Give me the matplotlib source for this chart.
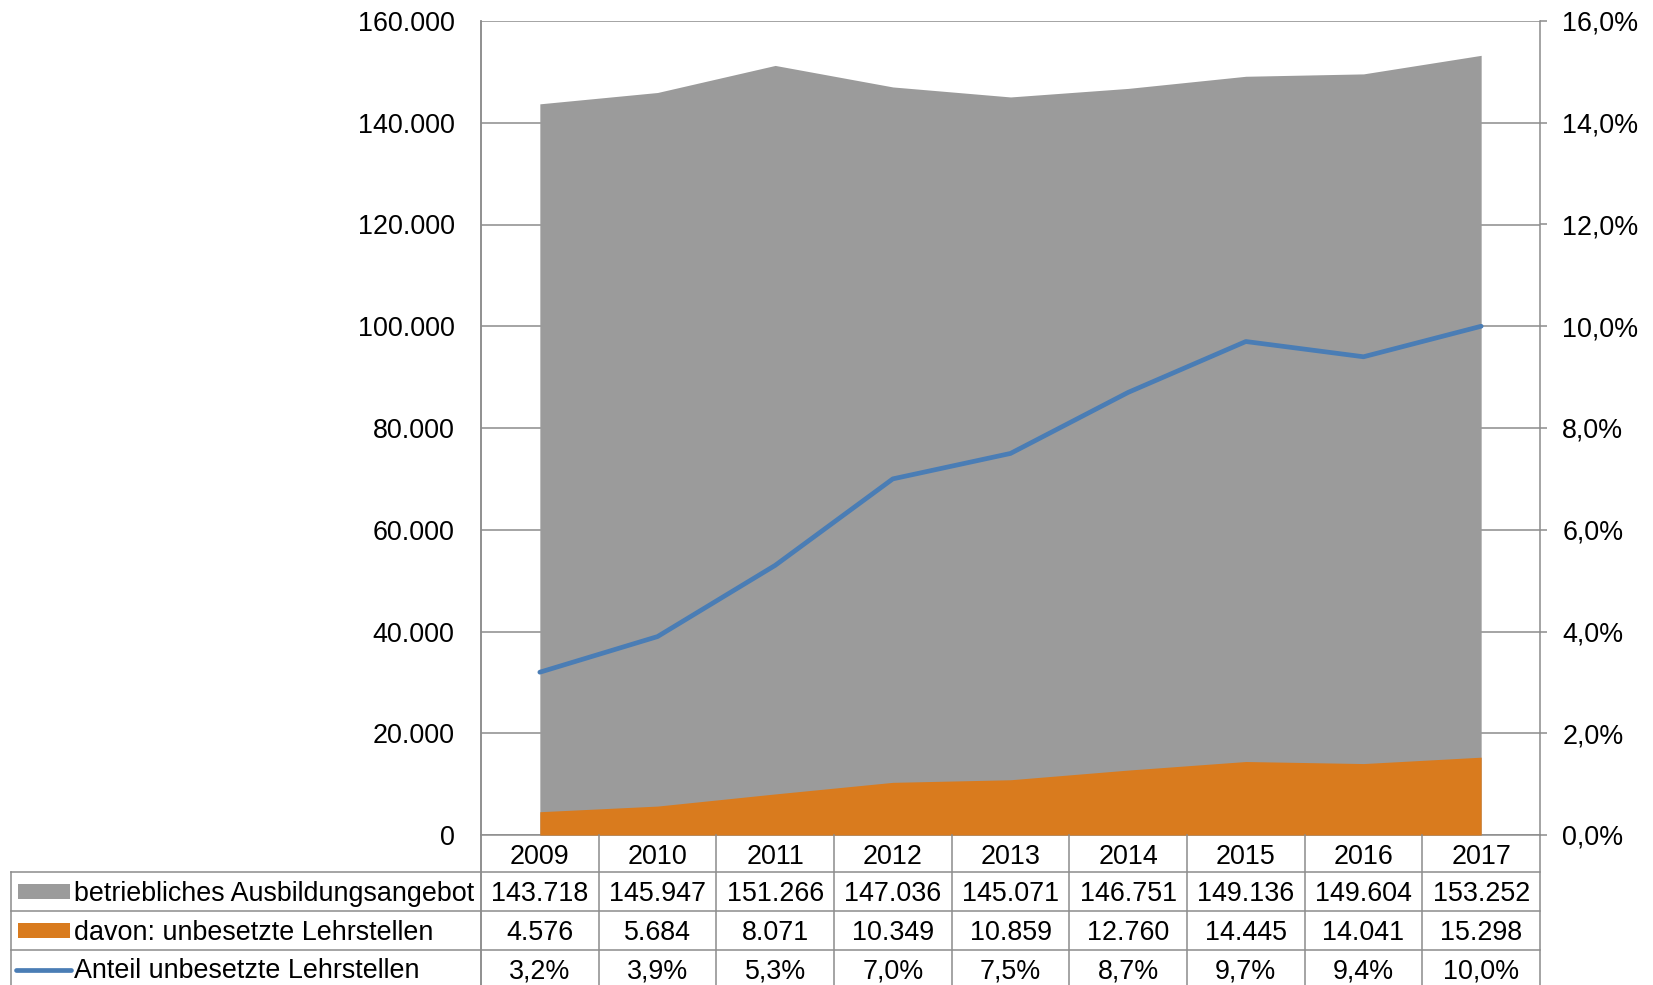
import matplotlib
matplotlib.use("Agg")
import matplotlib.pyplot as plt
from matplotlib.ticker import FuncFormatter
from matplotlib.patches import Rectangle

plt.rcParams["font.family"] = ["Liberation Sans", "DejaVu Sans"]

years = ["2009", "2010", "2011", "2012", "2013", "2014", "2015", "2016", "2017"]
angebot = [143718, 145947, 151266, 147036, 145071, 146751, 149136, 149604, 153252]
unbesetzt = [4576, 5684, 8071, 10349, 10859, 12760, 14445, 14041, 15298]
anteil = [3.2, 3.9, 5.3, 7.0, 7.5, 8.7, 9.7, 9.4, 10.0]
series_names = ["betriebliches Ausbildungsangebot", "davon: unbesetzte Lehrstellen",
                "Anteil unbesetzte Lehrstellen"]

GRAY = "#9b9b9b"
ORANGE = "#d97b1e"
BLUE = "#4a7db5"
LINE = "#8c8c8c"
FS = 19.4

W, H = 1653, 985
fig = plt.figure(figsize=(W / 100, H / 100), dpi=100)

# pixel layout of plot area
x0, x1, ytop, ybot = 481, 1540, 21, 835
ax = fig.add_axes([x0 / W, 1 - ybot / H, (x1 - x0) / W, (ybot - ytop) / H])
xs = list(range(len(years)))
ax.fill_between(xs, 0, angebot, color=GRAY, lw=0, zorder=2)
ax.fill_between(xs, 0, unbesetzt, color=ORANGE, lw=0, zorder=3)
ax.set_xlim(-0.5, len(years) - 0.5)
ax.set_ylim(0, 160000)
ax.set_yticks(range(0, 160001, 20000))
ax.yaxis.set_major_formatter(FuncFormatter(lambda v, p: f"{int(v):,}".replace(",", ".")))
ax.set_xticks([])
ax.tick_params(axis="y", length=0, pad=19, labelsize=FS)
ax.grid(axis="y", color=LINE, lw=1.1, zorder=1)
for s in ax.spines.values():
    s.set_color(LINE)
    s.set_linewidth(1.1)
ax.spines["top"].set_visible(False)

ax2 = ax.twinx()
ax2.plot(xs, anteil, color=BLUE, lw=3.4, solid_capstyle="round", zorder=4)
ax2.set_ylim(0, 16)
ax2.set_yticks(range(0, 17, 2))
ax2.yaxis.set_major_formatter(FuncFormatter(lambda v, p: f"{v:.1f}%".replace(".", ",")))
ax2.tick_params(axis="y", length=5, width=1.1, color=LINE, pad=11, labelsize=FS)
for s in ax2.spines.values():
    s.set_visible(False)

# data table below the plot, in pixel coordinates
tab = fig.add_axes([0, 0, 1, 1], zorder=5)
tab.set_xlim(0, W)
tab.set_ylim(H, 0)
tab.axis("off")
tab.patch.set_alpha(0)

rows = [835, 872, 911, 950, 990]
col_w = (x1 - x0) / len(years)
lkw = dict(color=LINE, lw=1.1)
tab.plot([x0, x0], [ytop, H], **lkw)
for i in range(len(years) + 1):
    x = x0 + i * col_w
    tab.plot([x, x], [rows[0], H], **lkw)
tab.plot([11, 11], [rows[1], H], **lkw)
for r in rows[1:4]:
    tab.plot([11, x1], [r, r], **lkw)

cy_rows = [857, 894, 933, 971]
for i, y in enumerate(years):
    cx = x0 + (i + 0.5) * col_w
    tab.text(cx, cy_rows[0], y, ha="center", va="center", fontsize=FS)
    tab.text(cx, cy_rows[1], f"{angebot[i]:,}".replace(",", "."),
             ha="center", va="center", fontsize=FS)
    tab.text(cx, cy_rows[2], f"{unbesetzt[i]:,}".replace(",", "."),
             ha="center", va="center", fontsize=FS)
    tab.text(cx, cy_rows[3], f"{anteil[i]:.1f}%".replace(".", ","),
             ha="center", va="center", fontsize=FS)

# legend keys
tab.add_patch(Rectangle((18, 884), 52, 15, color=GRAY, lw=0))
tab.add_patch(Rectangle((18, 923), 52, 15, color=ORANGE, lw=0))
tab.plot([16, 71], [970, 970], color=BLUE, lw=3.4, solid_capstyle="round")
for name, cy in zip(series_names, cy_rows[1:]):
    tab.text(74, cy, name, ha="left", va="center", fontsize=FS)

fig.savefig("out.png", dpi=100)
